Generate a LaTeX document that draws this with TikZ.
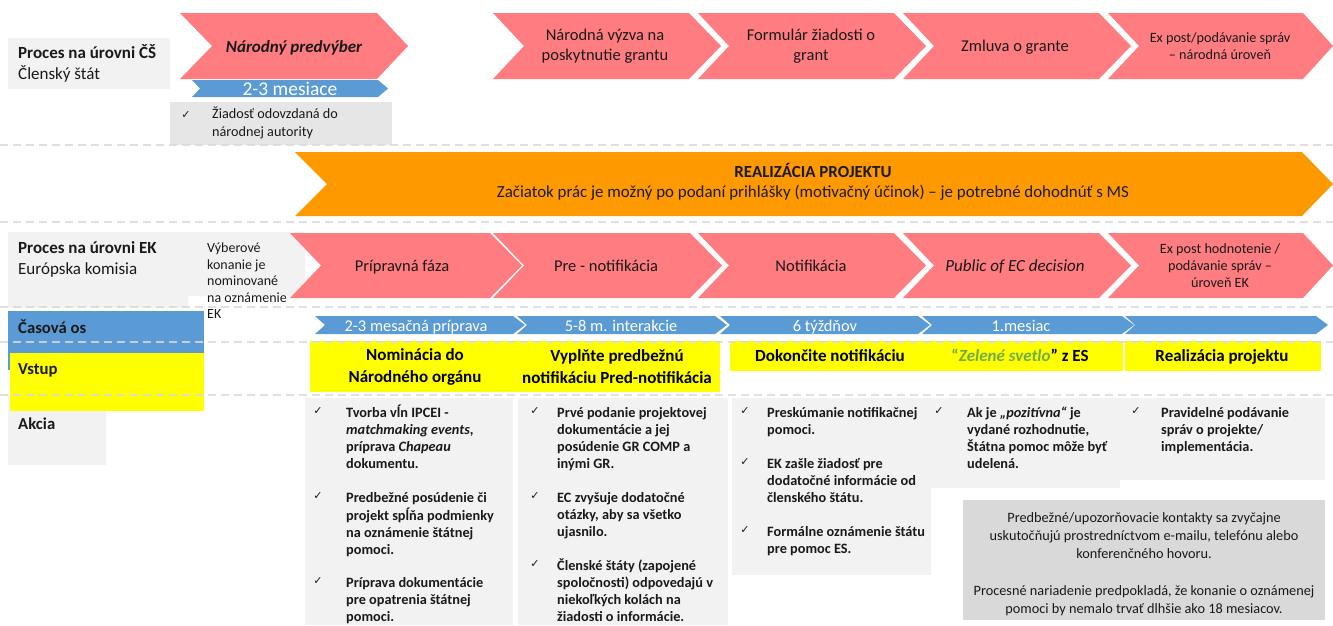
\documentclass[tikz,border=0pt]{standalone}
\usepackage{fontspec}
\setmainfont{Carlito}
\newfontfamily\dejavu{DejaVu Sans}
\definecolor{pinkc}{HTML}{FF7C80}
\definecolor{orangec}{HTML}{FF9900}
\definecolor{bluec}{HTML}{5B9BD5}
\definecolor{yellowc}{HTML}{FFFF00}
\definecolor{lgray}{HTML}{F2F2F2}
\definecolor{mgray}{HTML}{E6E6E6}
\definecolor{dgray}{HTML}{D9D9D9}
\definecolor{dashc}{HTML}{DADADA}
\definecolor{greenc}{HTML}{70AD47}
\definecolor{txt}{HTML}{1A1A1A}
\newcommand\chevr[7]{%
  \fill[#1] (#2,#5) -- (#3,#5) -- (#4,{(#5+#6)/2}) -- (#3,#6) -- (#2,#6) -- ({#2+#7},{(#5+#6)/2}) -- cycle;}
\begin{document}
\begin{tikzpicture}[x=1pt,y=-1pt,
  lbl/.style={anchor=north west, inner sep=0pt, align=left, text=txt, font=\fontsize{17}{21}\selectfont},
  chtxt/.style={inner sep=0pt, align=center, text=txt, font=\fontsize{16.5}{20}\selectfont},
  chone/.style={anchor=base, inner sep=0pt, text=txt, font=\fontsize{16.5}{20}\selectfont},
  smtxt/.style={inner sep=0pt, align=center, text=txt, font=\fontsize{14.2}{17}\selectfont},
  tltxt/.style={anchor=base, inner sep=0pt, text=white, font=\fontsize{16.4}{18}\selectfont},
  ytxt/.style={inner sep=0pt, align=center, text=black, font=\fontsize{17}{22}\selectfont\bfseries},
  yone/.style={anchor=base, inner sep=0pt, text=black, font=\fontsize{17}{22}\selectfont\bfseries},
  lst/.style={anchor=north west, inner sep=0pt, align=left, text=txt, font=\fontsize{14.3}{17}\selectfont\bfseries},
  ck/.style={inner sep=0pt, text=txt, font=\dejavu\fontsize{11}{11}\selectfont},
  dline/.style={draw=dashc, line width=1.5pt, dash pattern=on 8pt off 5pt, opacity=0.85}
]
\path[use as bounding box] (0,0) rectangle (1333,625);

% ---------- Member state row ----------
\fill[lgray] (8,38) rectangle (170,89);
\node[lbl] (cs) at (18,44) {\strut\textbf{Proces na úrovni ČŠ}\\Členský štát};

\chevr{pinkc}{180}{377}{408}{13}{79}{32}
\node[chone, font=\fontsize{17}{20}\selectfont\bfseries\itshape] (np) at (294,52) {Národný predvýber};
\chevr{pinkc}{493}{689}{721}{13}{79}{31}
\node[chtxt] (nv) at (605,46) {Národná výzva na\\poskytnutie grantu};
\chevr{pinkc}{698}{894}{926}{13}{79}{31}
\node[chtxt] (fz) at (811,46) {Formulár žiadosti o\\grant};
\chevr{pinkc}{903}{1099}{1131}{13}{79}{31}
\node[chone] (zg) at (1015,51.5) {Zmluva o grante};
\chevr{pinkc}{1108}{1303}{1333}{13}{79}{31}
\node[smtxt] (ep1) at (1220,46) {Ex post/podávanie správ\\– národná úroveň};

\chevr{bluec}{192}{378}{388}{80}{97}{8}
\node[tltxt, font=\fontsize{19.5}{20}\selectfont] (m23) at (290,95) {2-3 mesiace};

\fill[mgray] (170,102) rectangle (392,145);
\node[ck] (zc) at (186,115) {✓};
\node[lbl, font=\fontsize{14.2}{18}\selectfont] (zt) at (212,106) {\strut Žiadosť odovzdaná do\\národnej autority};

% ---------- Orange ----------
\chevr{orangec}{295}{1302}{1333}{152}{216}{32}
\node[chtxt, font=\fontsize{16.9}{20}\selectfont] (real) at (813,182) {\textbf{REALIZÁCIA PROJEKTU}\\Začiatok prác je možný po podaní prihlášky (motivačný účinok) – je potrebné dohodnúť s MS};

% ---------- EC row ----------
\fill[lgray] (8,232) -- (305,232) -- (305,296) -- (188,296) -- (188,308) -- (8,308) -- cycle;
\node[lbl] (ek) at (18,239) {\strut\textbf{Proces na úrovni EK}\\Európska komisia};
\node[lbl, font=\fontsize{14}{16.5}\selectfont] (vk) at (207,241) {\strut Výberové\\konanie je\\nominované\\na oznámenie\\EK};

\chevr{pinkc}{290}{490}{522}{233}{298}{31}
\node[chone] (pf) at (402,271.5) {Prípravná fáza};
\chevr{pinkc}{493}{690}{722}{233}{298}{31}
\node[chone] (pn) at (606,271.5) {Pre - notifikácia};
\chevr{pinkc}{698}{894}{926}{233}{298}{31}
\node[chone] (nf) at (811,271.5) {Notifikácia};
\chevr{pinkc}{903}{1099}{1131}{233}{298}{31}
\node[chone, font=\fontsize{17}{20}\selectfont\itshape] (pd) at (1015,271.5) {Public of EC decision};
\chevr{pinkc}{1108}{1303}{1333}{233}{298}{31}
\node[smtxt] (ep2) at (1220,266) {Ex post hodnotenie /\\podávanie správ –\\úroveň EK};

% ---------- Left labels ----------
\fill[lgray] (8,395) rectangle (106,465);
\fill[bluec] (8,311) rectangle (204,370);
\fill[yellowc] (9.5,353) rectangle (204,411);
\node[lbl, font=\fontsize{16.7}{21}\selectfont\bfseries] (co) at (18,319) {\strut Časová os};
\node[lbl, font=\fontsize{16.7}{21}\selectfont\bfseries] (vs) at (18,360) {\strut Vstup};
\node[lbl, font=\fontsize{16.7}{21}\selectfont\bfseries] (ak) at (18,415) {\strut Akcia};

% ---------- Timeline ----------
\chevr{bluec}{315}{513}{525}{316}{334}{10}
\chevr{bluec}{517}{715}{727}{316}{334}{10}
\chevr{bluec}{720}{918}{930}{316}{334}{10}
\chevr{bluec}{922}{1122}{1134}{316}{334}{10}
\chevr{bluec}{1125}{1316}{1328}{316}{334}{10}
\node[tltxt] (t1) at (416,331) {2-3 mesačná príprava};
\node[tltxt] (t2) at (621,331) {5-8 m. interakcie};
\node[tltxt] (t3) at (825,331) {6 týždňov};
\node[tltxt] (t4) at (1021,331) {1.mesiac};

% ---------- Inputs ----------
\fill[yellowc] (310,341) rectangle (720,392);
\fill[yellowc] (730,341) rectangle (1123,371);
\fill[yellowc] (1125,341) rectangle (1321,371);
\node[ytxt] (y1) at (415,367) {Nominácia do\\Národného orgánu};
\node[ytxt] (y2) at (617,367) {Vyplňte predbežnú\\notifikáciu Pred-notifikácia};
\node[yone] (y3) at (830,361.5) {Dokončite notifikáciu};
\node[yone] (y4) at (1020,361.5) {{\color{greenc}“\textit{Zelené svetlo}}" z ES};
\node[yone] (y5) at (1222,361.5) {Realizácia projektu};

% ---------- Actions ----------
\fill[lgray] (305,398) rectangle (513,625);
\fill[lgray] (518,398) rectangle (728,625);
\fill[lgray] (732,398) rectangle (931,575);
\fill[lgray] (930,398) rectangle (1120,488);
\fill[lgray] (1118,398) rectangle (1325,480);
\fill[dgray] (963,500) rectangle (1325,620);

\node[ck] (c11) at (318,411) {✓};
\node[lst] (a11) at (346,405) {\strut Tvorba vĺn IPCEI -\\\textit{matchmaking events},\\príprava \textit{Chapeau}\\dokumentu.};
\node[ck] (c12) at (318,496) {✓};
\node[lst] (a12) at (346,490) {\strut Predbežné posúdenie či\\projekt spĺňa podmienky\\na oznámenie štátnej\\pomoci.};
\node[ck] (c13) at (318,581) {✓};
\node[lst] (a13) at (346,575) {\strut Príprava dokumentácie\\pre opatrenia štátnej\\pomoci.};

\node[ck] (c21) at (535,411) {✓};
\node[lst] (a21) at (557,405) {\strut Prvé podanie projektovej\\dokumentácie a jej\\posúdenie GR COMP a\\inými GR.};
\node[ck] (c22) at (535,496) {✓};
\node[lst] (a22) at (557,490) {\strut EC zvyšuje dodatočné\\otázky, aby sa všetko\\ujasnilo.};
\node[ck] (c23) at (535,564) {✓};
\node[lst] (a23) at (557,558) {\strut Členské štáty (zapojené\\spoločnosti) odpovedajú v\\niekoľkých kolách na\\žiadosti o informácie.};

\node[ck] (c31) at (745,411) {✓};
\node[lst] (a31) at (767,405) {\strut Preskúmanie notifikačnej\\pomoci.};
\node[ck] (c32) at (745,462) {✓};
\node[lst] (a32) at (767,456) {\strut EK zašle žiadosť pre\\dodatočné informácie od\\členského štátu.};
\node[ck] (c33) at (745,530) {✓};
\node[lst] (a33) at (767,524) {\strut Formálne oznámenie štátu\\pre pomoc ES.};

\node[ck] (c41) at (939,411) {✓};
\node[lst] (a41) at (967,405) {\strut Ak je \textit{„pozitívna“} je\\vydané rozhodnutie,\\Štátna pomoc môže byť\\udelená.};

\node[ck] (c51) at (1136,411) {✓};
\node[lst] (a51) at (1161,405) {\strut Pravidelné podávanie\\správ o projekte/\\implementácia.};

\node[smtxt, font=\fontsize{14.3}{18}\selectfont] (note) at (1144,564) {Predbežné/upozorňovacie kontakty sa zvyčajne\\uskutočňujú prostredníctvom e-mailu, telefónu alebo\\konferenčného hovoru.\\[19pt]Procesné nariadenie predpokladá, že konanie o oznámenej\\pomoci by nemalo trvať dlhšie ako 18 mesiacov.};

% ---------- Dashed separators ----------
\coordinate (d1a) at (0,145); \coordinate (d1b) at (1333,145);
\coordinate (d2a) at (0,222); \coordinate (d2b) at (1333,222);
\coordinate (d3a) at (0,307); \coordinate (d3b) at (1333,307);
\coordinate (d4a) at (0,342); \coordinate (d4b) at (1333,342);
\coordinate (d5a) at (0,395); \coordinate (d5b) at (1333,395);
\draw[dline] (d1a) -- (d1b);
\draw[dline] (d2a) -- (d2b);
\draw[dline] (d3a) -- (d3b);
\draw[dline] (d4a) -- (d4b);
\draw[dline] (d5a) -- (d5b);
\end{tikzpicture}
\end{document}
